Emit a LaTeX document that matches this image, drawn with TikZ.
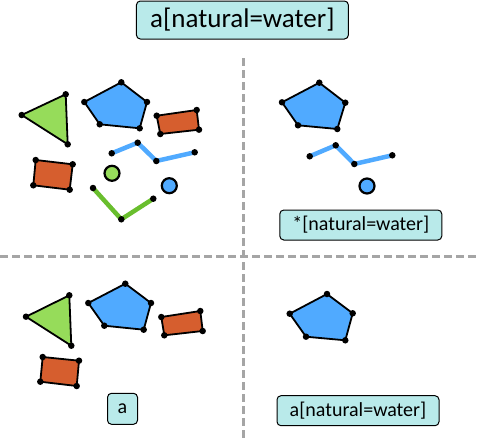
\documentclass[tikz,border=0pt]{standalone}
\usepackage{fontspec}
\setmainfont{Carlito}
\definecolor{cgreen}{RGB}{150,220,90}
\definecolor{cgreenline}{RGB}{105,190,45}
\definecolor{cblue}{RGB}{80,170,255}
\definecolor{corange}{RGB}{214,94,46}
\definecolor{clabel}{RGB}{185,234,234}
\definecolor{cgray}{RGB}{165,165,165}
\begin{document}
\begin{tikzpicture}[x=1pt,y=-1pt,
  poly/.style={draw=black,line width=1.8pt,line join=round},
  vtx/.style={circle,fill=black,inner sep=0pt,minimum size=6.5pt},
  wline/.style={line width=4.5pt},
  pt/.style={circle,draw=black,line width=2.2pt,minimum size=15pt,inner sep=0pt},
  lbl/.style={draw=black,fill=clabel,rounded corners=4pt,line width=1pt,inner sep=0pt},
  sep/.style={draw=cgray,line width=3pt,dash pattern=on 8pt off 4pt}]
\useasboundingbox (0,0) rectangle (480,440);
\newcommand{\vtxdots}[1]{\foreach \p in {#1} \node[vtx] at \p {};}
% separators
\coordinate (vt) at (243.7,58);
\coordinate (vb) at (243.7,440);
\coordinate (hl) at (0,256.3);
\coordinate (hr) at (480,256.3);
\draw[sep] (vt) -- (vb);
\draw[sep] (hl) -- (hr);
% title
\node[lbl,minimum width=212pt,minimum height=38pt] (title) at (242.4,20) {\fontsize{27}{32}\selectfont a[natural=water]};
% ---- top-left
\draw[poly,fill=cgreen] (21.7,115) -- (65.7,94.3) -- (67.7,144.3) -- cycle;
\vtxdots{(21.7,115),(65.7,94.3),(67.7,144.3)}
\draw[poly,fill=cblue] (84.3,102) -- (121.3,82.3) -- (147,102) -- (139.7,128.3) -- (99.7,124.3) -- cycle;
\vtxdots{(84.3,102),(121.3,82.3),(147,102),(139.7,128.3),(99.7,124.3)}
\draw[poly,fill=corange] (156.7,115.7) -- (196.7,110) -- (199,129.7) -- (160.3,134) -- cycle;
\vtxdots{(156.7,115.7),(196.7,110),(199,129.7),(160.3,134)}
\draw[poly,fill=corange] (35.7,160) -- (72.7,164.3) -- (69.7,189.7) -- (33.3,185.3) -- cycle;
\vtxdots{(35.7,160),(72.7,164.3),(69.7,189.7),(33.3,185.3)}
\draw[wline,cblue] (111.7,153.3) -- (137.7,142.7) -- (156.3,161) -- (194.7,152.3);
\vtxdots{(111.7,153.3),(137.7,142.7),(156.3,161),(194.7,152.3)}
\draw[wline,cgreenline] (93,188) -- (121.3,219.3) -- (153.3,198.7);
\vtxdots{(93,188),(121.3,219.3),(153.3,198.7)}
\node[pt,fill=cgreen] (g1) at (112,173.3) {};
\node[pt,fill=cblue] (b1) at (169.3,185.7) {};
% ---- top-right
\draw[poly,fill=cblue] (282,102.3) -- (319.3,82.7) -- (345.3,102.7) -- (337.3,129) -- (298,125.3) -- cycle;
\vtxdots{(282,102.3),(319.3,82.7),(345.3,102.7),(337.3,129),(298,125.3)}
\draw[wline,cblue] (309.7,156.3) -- (335.7,145.3) -- (354.3,164) -- (392.3,155.3);
\vtxdots{(309.7,156.3),(335.7,145.3),(354.3,164),(392.3,155.3)}
\node[pt,fill=cblue] (b2) at (367,186) {};
\node[lbl,minimum width=162pt,minimum height=30pt] (l1) at (360.8,225) {\fontsize{20}{24}\selectfont *[natural=water]};
% ---- bottom-left
\draw[poly,fill=cgreen] (26,316.7) -- (69.3,295.3) -- (71.3,345.7) -- cycle;
\vtxdots{(26,316.7),(69.3,295.3),(71.3,345.7)}
\draw[poly,fill=cblue] (88.3,303) -- (125.3,283.7) -- (151,303) -- (143.7,329.7) -- (104.3,325.7) -- cycle;
\vtxdots{(88.3,303),(125.3,283.7),(151,303),(143.7,329.7),(104.3,325.7)}
\draw[poly,fill=corange] (161.3,317) -- (200.3,311) -- (202.7,331) -- (164.3,335.3) -- cycle;
\vtxdots{(161.3,317),(200.3,311),(202.7,331),(164.3,335.3)}
\draw[poly,fill=corange] (42.7,357) -- (79,360.7) -- (76.7,386) -- (40.3,381.7) -- cycle;
\vtxdots{(42.7,357),(79,360.7),(76.7,386),(40.3,381.7)}
\node[lbl,minimum width=30pt,minimum height=31pt] (l2) at (122.5,408.8) {\fontsize{20}{24}\selectfont a};
% ---- bottom-right
\draw[poly,fill=cblue] (289.7,313.7) -- (327,294) -- (352.7,313.3) -- (345.3,340.3) -- (306,336.7) -- cycle;
\vtxdots{(289.7,313.7),(327,294),(352.7,313.3),(345.3,340.3),(306,336.7)}
\node[lbl,minimum width=162pt,minimum height=30pt] (l3) at (358,410.7) {\fontsize{20}{24}\selectfont a[natural=water]};
\end{tikzpicture}
\end{document}
